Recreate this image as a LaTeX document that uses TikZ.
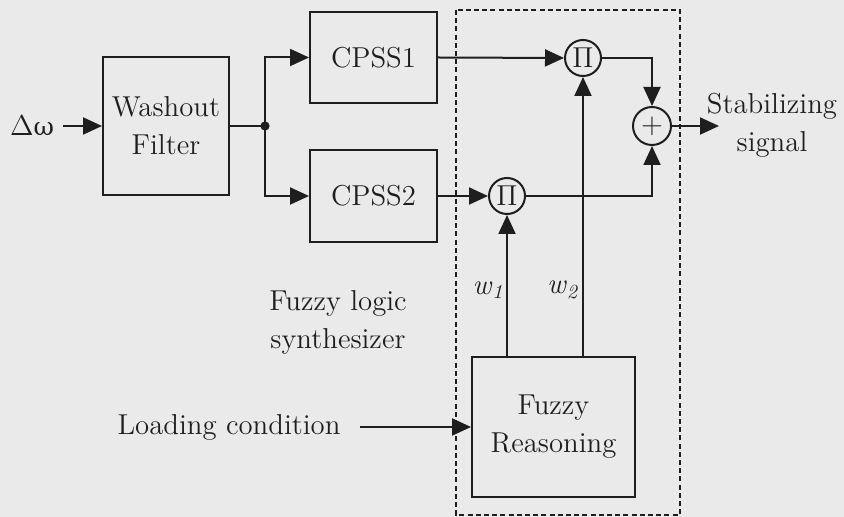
\documentclass[tikz,border=0pt]{standalone}
\usepackage{fontspec}
\newfontfamily\grk{DejaVu Serif}
\usepackage{xcolor}
\usetikzlibrary{arrows.meta,positioning,calc,backgrounds}
\definecolor{fzBg}  {RGB}{234,234,234}
\definecolor{fzInk} {RGB}{ 30, 30, 30}

\begin{document}
\begin{tikzpicture}[
  x=0.5pt,y=-0.5pt,
  every node/.style={font=\fontsize{14.4}{19}\selectfont,text=fzInk},
  blk/.style={draw=fzInk,line width=1pt,minimum width=#1,align=center},
  mult/.style={draw=fzInk,line width=1pt,circle,minimum size=18pt,inner sep=0pt},
  sig/.style={-{Triangle[length=9.5pt,width=8.5pt]},line width=1pt,draw=fzInk},
  wire/.style={line width=1pt,draw=fzInk}
]
\fill[fzBg] (0,0) rectangle (844,517);
\useasboundingbox (0,0) rectangle (844,517);

% synthesizer frame
\draw[fzInk,line width=1pt,dash pattern=on 2.5pt off 1.6pt] (456,10) rectangle (680,515);

% blocks
\node (dw) at (32,126) {$\Delta${\grk\fontsize{12.5}{19}\selectfont ω}};
\node[blk=63pt,minimum height=69pt]   (wash)  at (166,126) {Washout\\Filter};
\node[blk=63.5pt,minimum height=45.5pt] (cpss1) at (373.5,57.5) {CPSS1};
\node[blk=63.5pt,minimum height=46pt] (cpss2) at (373.5,196) {CPSS2};
\node[blk=81.5pt,minimum height=70pt] (fuzzy) at (553.5,427) {Fuzzy\\Reasoning};

\node[mult] (pi1) at (583,58)  {$\Pi$};
\node[mult] (pi2) at (507,196) {$\Pi$};
\node[mult,minimum size=19pt] (sum) at (652,126) {+};

\coordinate (jn)  at (265,126);
\coordinate (out) at (719,126);
\fill[fzInk] (jn) circle (2.3pt);

% labels
\node[align=center] (stab) at (772,125) {Stabilizing\\signal};
\node (load) at (229,427) {Loading condition};
\node[align=center] (fls) at (338,322) {Fuzzy logic\\synthesizer};
\node (w1) at (488,290) {\textit{w}\textsubscript{\textit{1}}};
\node (w2) at (563,290) {\textit{w}\textsubscript{\textit{2}}};

% signal paths
\draw[sig] ([xshift=1pt]dw.east) -- (wash.west);
\draw[wire] (wash.east) -- (jn);
\draw[sig] (jn) |- (cpss1.west);
\draw[sig] (jn) |- (cpss2.west);
\draw[sig] (cpss1.east) -- (pi1.west);
\draw[sig] (cpss2.east) -- (pi2.west);
\draw[sig] (pi1.east) -| (sum.north);
\draw[sig] (pi2.east) -| (sum.south);
\draw[sig] (sum.east) -- (out);
\draw[sig] (pi2.south |- fuzzy.north) -- (pi2.south);
\draw[sig] (pi1.south |- fuzzy.north) -- (pi1.south);
\draw[sig] ([xshift=6pt]load.east) -- (fuzzy.west);
\end{tikzpicture}
\end{document}
